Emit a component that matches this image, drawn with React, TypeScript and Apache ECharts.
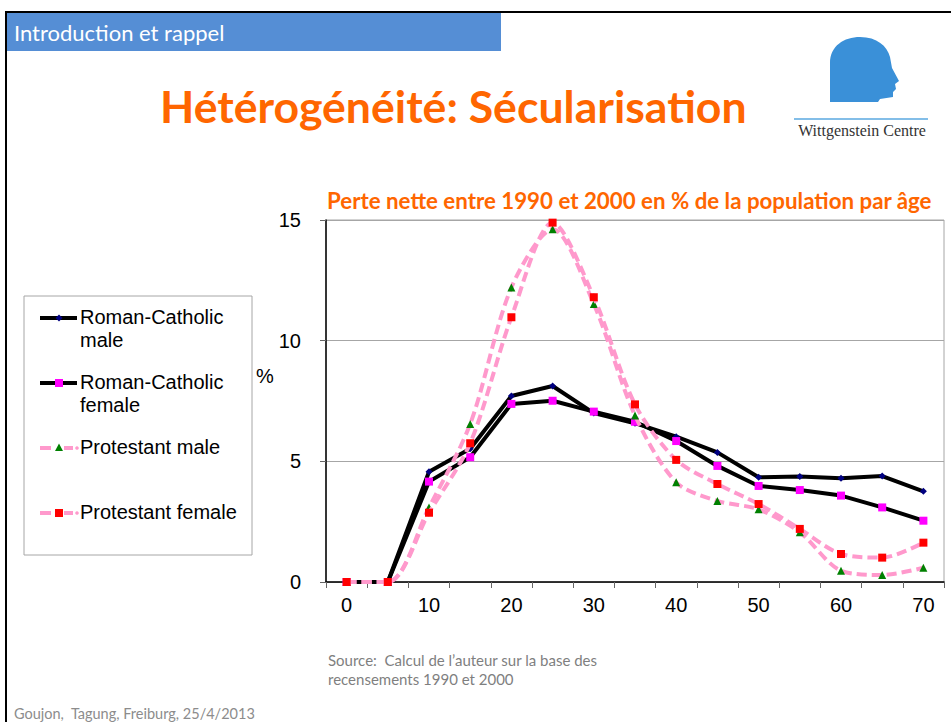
import React, { useEffect, useRef } from "react";
import * as echarts from "echarts";

const ages = ["0", "5", "10", "15", "20", "25", "30", "35", "40", "45", "50", "55", "60", "65", "70"];
const rcMale = [0, 0, 4.57, 5.52, 7.71, 8.12, 7.0, 6.58, 6.02, 5.37, 4.34, 4.37, 4.3, 4.39, 3.76];
const rcFemale = [0, 0, 4.16, 5.17, 7.38, 7.51, 7.06, 6.64, 5.84, 4.81, 3.98, 3.81, 3.58, 3.09, 2.54];
const protMale = [0, 0, 3.09, 6.55, 12.2, 14.62, 11.52, 6.9, 4.13, 3.36, 3.01, 2.06, 0.47, 0.29, 0.59];
const protFemale = [0, 0, 2.87, 5.75, 10.97, 14.89, 11.8, 7.36, 5.06, 4.06, 3.23, 2.2, 1.16, 1.01, 1.63];
const seriesNames = ["Roman-Catholic male", "Roman-Catholic female", "Protestant male", "Protestant female"];
const legendLines = [["Roman-Catholic", "male"], ["Roman-Catholic", "female"], ["Protestant male"], ["Protestant female"]];
const yTicks = { min: 0, max: 15, interval: 5 };

const SANS = "'Liberation Sans', Arial, sans-serif";
const CAL = "Lato, 'Open Sans', sans-serif";
const PINK = "#ff99cc";

export default function App() {
  const ref = useRef<HTMLDivElement>(null);
  useEffect(() => {
    if (!ref.current) return;
    echarts.graphic.registerShape(
      "logo",
      echarts.graphic.extendPath(
        "M 0 65 L 0 26 C 0 9 14 0 30 0 C 47 0 57 9 60 20 L 62 31 L 69 44 L 65 47 L 66 52 L 63 55 L 63 60 L 50 62 L 48 65 Z",
        {}
      )
    );
    const chart = echarts.init(ref.current, null, { renderer: "svg" });

    const txt = (x: number, y: number, text: string, font: string, fill: string, align = "left") => ({
      type: "text",
      x,
      y,
      z: 100,
      style: { text, font, fill, align, verticalAlign: "middle" },
    });

    const legendY = [318, 383, 448, 513];
    const legendGraphics: any[] = [
      {
        type: "rect",
        shape: { x: 24, y: 296, width: 228, height: 259 },
        style: { fill: "#fff", stroke: "#a6a6a6", lineWidth: 1 },
        z: 90,
      },
    ];
    legendY.forEach((ly, i) => {
      if (i < 2) {
        legendGraphics.push({
          type: "line",
          shape: { x1: 40, y1: ly, x2: 77, y2: ly },
          style: { stroke: "#000", lineWidth: 4 },
          z: 95,
        });
      } else {
        legendGraphics.push(
          { type: "line", shape: { x1: 40, y1: ly, x2: 51, y2: ly }, style: { stroke: PINK, lineWidth: 4 }, z: 95 },
          { type: "line", shape: { x1: 64, y1: ly, x2: 73, y2: ly }, style: { stroke: PINK, lineWidth: 4 }, z: 95 },
          { type: "circle", shape: { cx: 77, cy: ly, r: 1.8 }, style: { fill: PINK }, z: 95 }
        );
      }
      if (i === 0) {
        legendGraphics.push({
          type: "polygon",
          shape: { points: [[59, ly - 3.5], [62.5, ly], [59, ly + 3.5], [55.5, ly]] },
          style: { fill: "#000080" },
          z: 96,
        });
      } else if (i === 1) {
        legendGraphics.push({ type: "rect", shape: { x: 55, y: ly - 4, width: 8, height: 8 }, style: { fill: "#ff00ff" }, z: 96 });
      } else if (i === 2) {
        legendGraphics.push({
          type: "polygon",
          shape: { points: [[59, ly - 4.5], [63, ly + 3], [55, ly + 3]] },
          style: { fill: "#008000" },
          z: 96,
        });
      } else {
        legendGraphics.push({ type: "rect", shape: { x: 55, y: ly - 4, width: 8, height: 8 }, style: { fill: "#ff0000" }, z: 96 });
      }
      legendLines[i].forEach((t, k) => {
        legendGraphics.push(txt(80, ly - 1 + k * 23, t, `20px ${SANS}`, "#000"));
      });
    });

    const option: any = {
      animation: false,
      backgroundColor: "#fff",
      grid: {
        left: 326,
        right: 7,
        top: 220,
        bottom: 140,
        show: true,
        borderColor: "#a6a6a6",
        borderWidth: 1,
        containLabel: false,
      },
      xAxis: {
        type: "category",
        data: ages,
        boundaryGap: true,
        axisLine: { show: true, lineStyle: { color: "#000", width: 1.5 } },
        axisTick: { show: true, interval: 0, length: 6, lineStyle: { color: "#666" } },
        axisLabel: { interval: 1, fontSize: 20, color: "#000", fontFamily: SANS, margin: 13 },
        splitLine: { show: false },
      },
      yAxis: {
        type: "value",
        min: yTicks.min,
        max: yTicks.max,
        interval: yTicks.interval,
        axisLine: { show: true, lineStyle: { color: "#000", width: 1.5 } },
        axisTick: { show: true, length: 6, lineStyle: { color: "#666" } },
        axisLabel: { fontSize: 20, color: "#000", fontFamily: SANS, margin: 25 },
        splitLine: { show: true, lineStyle: { color: "#a6a6a6", width: 1 } },
      },
      series: [
        {
          name: seriesNames[0],
          type: "line",
          data: rcMale,
          symbol: "diamond",
          symbolSize: 7,
          itemStyle: { color: "#000080" },
          lineStyle: { color: "#000", width: 4 },
          z: 2,
        },
        {
          name: seriesNames[1],
          type: "line",
          data: rcFemale,
          symbol: "rect",
          symbolSize: 8,
          itemStyle: { color: "#ff00ff" },
          lineStyle: { color: "#000", width: 4 },
          z: 3,
        },
        {
          name: seriesNames[2],
          type: "line",
          data: protMale,
          smooth: 0.3,
          symbol: "triangle",
          symbolSize: 8,
          itemStyle: { color: "#008000" },
          lineStyle: { color: PINK, width: 4, type: [10, 5] },
          z: 4,
        },
        {
          name: seriesNames[3],
          type: "line",
          data: protFemale,
          smooth: 0.3,
          symbol: "rect",
          symbolSize: 8,
          itemStyle: { color: "#ff0000" },
          lineStyle: { color: PINK, width: 4, type: [10, 5] },
          z: 5,
        },
      ],
      graphic: [
        { type: "rect", shape: { x: 7, y: 13, width: 494, height: 38 }, style: { fill: "#558ed5" }, z: 50 },
        { type: "line", shape: { x1: 5, y1: 12, x2: 951, y2: 12 }, style: { stroke: "#000", lineWidth: 2 }, z: 51 },
        { type: "line", shape: { x1: 6, y1: 12, x2: 6, y2: 722 }, style: { stroke: "#000", lineWidth: 2 }, z: 51 },
        txt(14, 32, "Introduction et rappel", `22px ${CAL}`, "#fff"),
        txt(160, 105, "Hétérogénéité: Sécularisation", `bold 44.6px ${CAL}`, "#ff6600"),
        txt(327, 200, "Perte nette entre 1990 et 2000 en % de la population par âge", `bold 22.3px ${CAL}`, "#ff6600"),
        txt(256, 376, "%", `20px ${SANS}`, "#000"),
        txt(328, 660, "Source:  Calcul de l’auteur sur la base des", `15px ${CAL}`, "#7f7f7f"),
        txt(328, 679, "recensements 1990 et 2000", `15px ${CAL}`, "#7f7f7f"),
        txt(14, 713, "Goujon,  Tagung, Freiburg, 25/4/2013", `14.5px ${CAL}`, "#8c8c8c"),
        {
          type: "logo",
          x: 830,
          y: 37,
          scaleX: 1,
          scaleY: 1,
          style: { fill: "#3a90d8" },
          z: 60,
        },
        { type: "line", shape: { x1: 794, y1: 119, x2: 928, y2: 119 }, style: { stroke: "#5aa8e0", lineWidth: 1.5 }, z: 60 },
        txt(862, 130, "Wittgenstein Centre", `16px 'Liberation Serif', 'DejaVu Serif', serif`, "#333", "center"),
        ...legendGraphics,
      ],
    };
    chart.setOption(option);
    return () => chart.dispose();
  }, []);
  return <div ref={ref} style={{ position: "fixed", left: 0, top: 0, width: 951, height: 722 }} />;
}
